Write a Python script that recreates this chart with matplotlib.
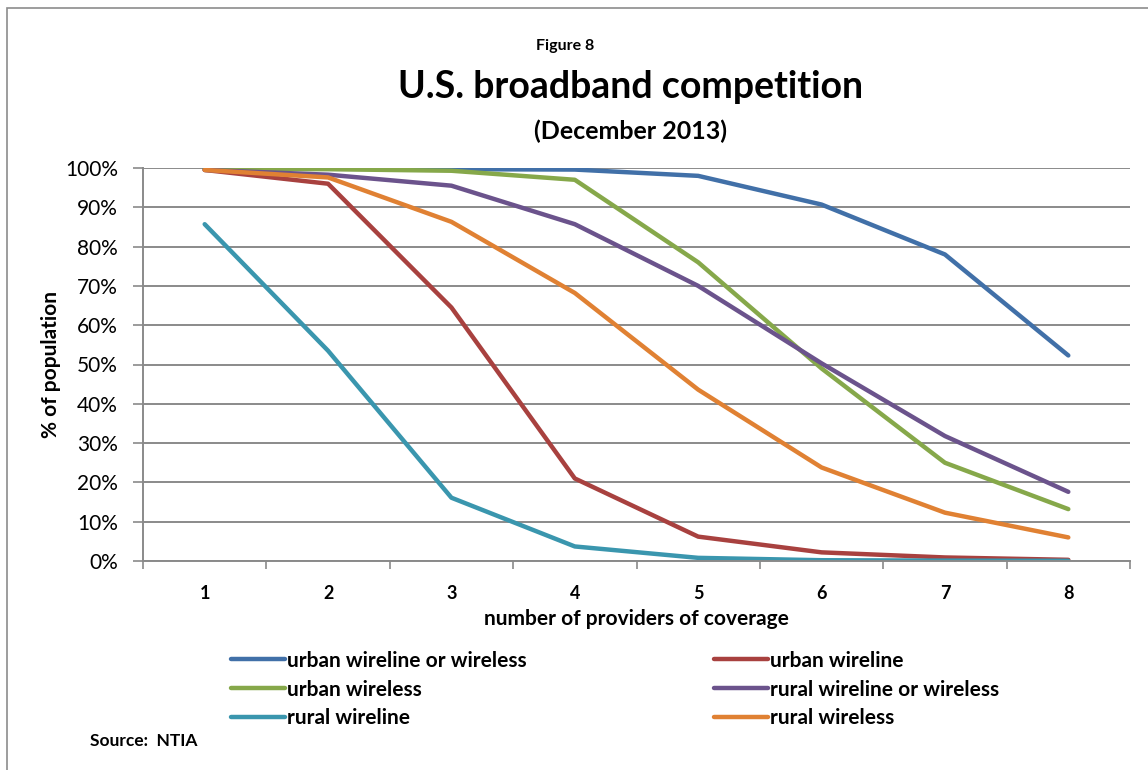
import matplotlib.pyplot as plt
from matplotlib.patches import Rectangle
from matplotlib.ticker import PercentFormatter

# dados (% da populacao)
providers = [1, 2, 3, 4, 5, 6, 7, 8]
urban_any = [99.9, 99.8, 99.7, 99.6, 98.0, 90.7, 78.0, 52.3]
urban_wireline = [99.5, 96.0, 64.5, 21.0, 6.2, 2.2, 0.9, 0.3]
urban_wireless = [99.8, 99.7, 99.3, 97.0, 76.0, 49.0, 25.0, 13.2]
rural_any = [99.5, 98.3, 95.5, 85.7, 70.0, 50.3, 31.8, 17.6]
rural_wireline = [85.7, 53.5, 16.1, 3.7, 0.8, 0.2, 0.1, 0.05]
rural_wireless = [99.5, 97.6, 86.3, 68.2, 43.6, 23.8, 12.3, 6.0]

series = [
    ('urban wireline or wireless', urban_any, '#4170A8'),
    ('urban wireline', urban_wireline, '#A8413F'),
    ('urban wireless', urban_wireless, '#86A84A'),
    ('rural wireline or wireless', rural_any, '#6B538C'),
    ('rural wireline', rural_wireline, '#3A96AE'),
    ('rural wireless', rural_wireless, '#E08133'),
]

plt.rcParams['font.family'] = ['Lato', 'DejaVu Sans']

fig = plt.figure(figsize=(11.48, 7.7), dpi=100)
fig.patches.append(Rectangle((7 / 1148, -0.1), 1.2, (762 / 770) + 0.1,
                             transform=fig.transFigure, fill=False,
                             edgecolor='#8c8c8c', linewidth=1.2))

ax = fig.add_axes([143 / 1148, 1 - 561 / 770, 987 / 1148, 393 / 770])

linhas = {}
for nome, valores, cor in series:
    linhas[nome], = ax.plot(providers, valores, color=cor, linewidth=3.2,
                            solid_capstyle='round', solid_joinstyle='round',
                            label=nome)

ax.set_xlim(0.5, 8.5)
ax.set_ylim(0, 100)
ax.set_yticks(range(0, 101, 10))
ax.yaxis.set_major_formatter(PercentFormatter(decimals=0))
ax.grid(axis='y', color='#8a8a8a', linewidth=1.4)
ax.set_axisbelow(True)

# ticks nas fronteiras das categorias, rotulos no centro
ax.set_xticks([x + 0.5 for x in range(0, 9)])
ax.set_xticklabels([])
ax.set_xticks(providers, minor=True)
ax.set_xticklabels([str(p) for p in providers], minor=True,
                   fontsize=13, fontweight='bold')
ax.tick_params(axis='x', which='minor', length=0, pad=17)
ax.tick_params(axis='x', which='major', length=6, color='#8a8a8a', width=1.2)
ax.tick_params(axis='y', length=7, color='#8a8a8a', width=1.2,
               labelsize=15, pad=11)

for lado in ['top', 'right']:
    ax.spines[lado].set_visible(False)
for lado in ['left', 'bottom']:
    ax.spines[lado].set_color('#8a8a8a')
    ax.spines[lado].set_linewidth(1.4)

ax.set_xlabel('number of providers of coverage', fontsize=15,
              fontweight='bold', labelpad=5)
ax.set_ylabel('% of population', fontsize=15, fontweight='bold', labelpad=3)

fig.text(565 / 1148, 1 - 46 / 770, 'Figure 8', ha='center', va='center',
         fontsize=11.5, fontweight='bold')
fig.text(631 / 1148, 1 - 87 / 770, 'U.S. broadband competition', ha='center',
         va='center', fontsize=27, fontweight='bold')
fig.text(631 / 1148, 1 - 131 / 770, '(December 2013)', ha='center',
         va='center', fontsize=18, fontweight='bold')
fig.text(90 / 1148, 1 - 741 / 770, 'Source:  NTIA', ha='left', va='center',
         fontsize=12.5, fontweight='bold')

ordem = ['urban wireline or wireless', 'urban wireless', 'rural wireline',
         'urban wireline', 'rural wireline or wireless', 'rural wireless']
leg = fig.legend([linhas[n] for n in ordem], ordem, ncol=2,
                 loc='upper left', bbox_to_anchor=(212 / 1148, 1 - 632 / 770),
                 frameon=False, handlelength=2.6, handletextpad=0.1,
                 columnspacing=9.0, labelspacing=0.42,
                 prop={'size': 15, 'weight': 'bold'})

fig.savefig('out.png', dpi=100)
